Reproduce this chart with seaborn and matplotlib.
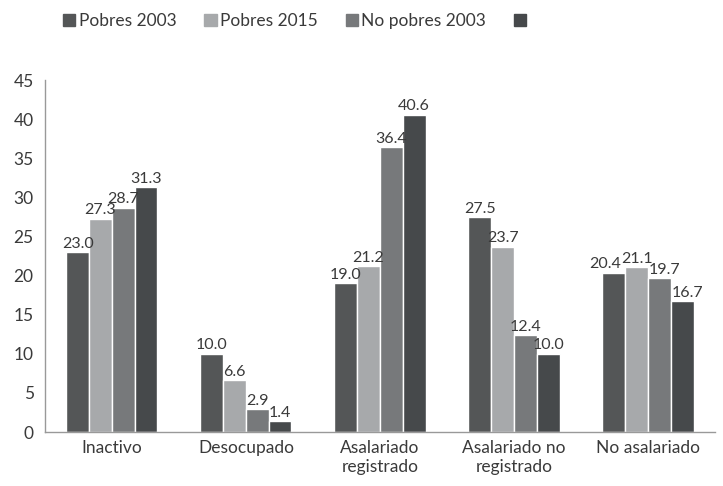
import matplotlib
matplotlib.use("Agg")
import matplotlib.pyplot as plt
import matplotlib.patches as mpatches
import pandas as pd
import seaborn as sns

categorias = ["Inactivo", "Desocupado", "Asalariado\nregistrado",
              "Asalariado no\nregistrado", "No asalariado"]
series = ["Pobres 2003", "Pobres 2015", "No pobres 2003", ""]
pobres_2003 = [23.0, 10.0, 19.0, 27.5, 20.4]
pobres_2015 = [27.3, 6.6, 21.2, 23.7, 21.1]
no_pobres_2003 = [28.7, 2.9, 36.4, 12.4, 19.7]
no_pobres_2015 = [31.3, 1.4, 40.6, 10.0, 16.7]
colores = ["#545657", "#a7a9ab", "#77797b", "#46494b"]

valores = [pobres_2003, pobres_2015, no_pobres_2003, no_pobres_2015]
hues = ["s0", "s1", "s2", "s3"]
filas = []
for h, vals in zip(hues, valores):
    for c, v in zip(categorias, vals):
        filas.append({"cat": c, "serie": h, "valor": v})
df = pd.DataFrame(filas)

sns.set_style("white")
plt.rcParams["font.family"] = ["Lato", "DejaVu Sans"]
txt = "#3a3a3a"

fig = plt.figure(figsize=(7.23, 4.86), dpi=100)
ax = fig.add_axes([0.062, 0.111, 0.927, 0.724])
sns.barplot(data=df, x="cat", y="valor", hue="serie", hue_order=hues,
            palette=colores, width=0.68, saturation=1, ax=ax, legend=False)

# labels del ultimo grupo corridos para que no se pisen (como en el original)
nudge = [-6, 0, 4, 4]
for i, cont in enumerate(ax.containers):
    anns = ax.bar_label(cont, fmt="%.1f", padding=1, fontsize=11.5, color=txt)
    anns[-1].xyann = (nudge[i], 1)

ax.set_ylim(0, 45)
ax.set_yticks(range(0, 46, 5))
ax.set_xlabel("")
ax.set_ylabel("")
ax.tick_params(axis="both", length=0, labelsize=12.5, colors=txt, pad=8)
ax.tick_params(axis="x", pad=6)
for s in ["top", "right"]:
    ax.spines[s].set_visible(False)
for s in ["left", "bottom"]:
    ax.spines[s].set_color("#999999")
    ax.spines[s].set_linewidth(1)

handles = [mpatches.Patch(color=c, label=l) for c, l in zip(colores, series)]
fig.legend(handles=handles, labels=series, loc="upper left",
           bbox_to_anchor=(0.066, 1.005), ncol=4, frameon=False,
           fontsize=12.5, labelcolor=txt, handlelength=0.7, handleheight=0.7,
           handletextpad=0.2, columnspacing=1.6)

fig.savefig("out.png", dpi=100)
